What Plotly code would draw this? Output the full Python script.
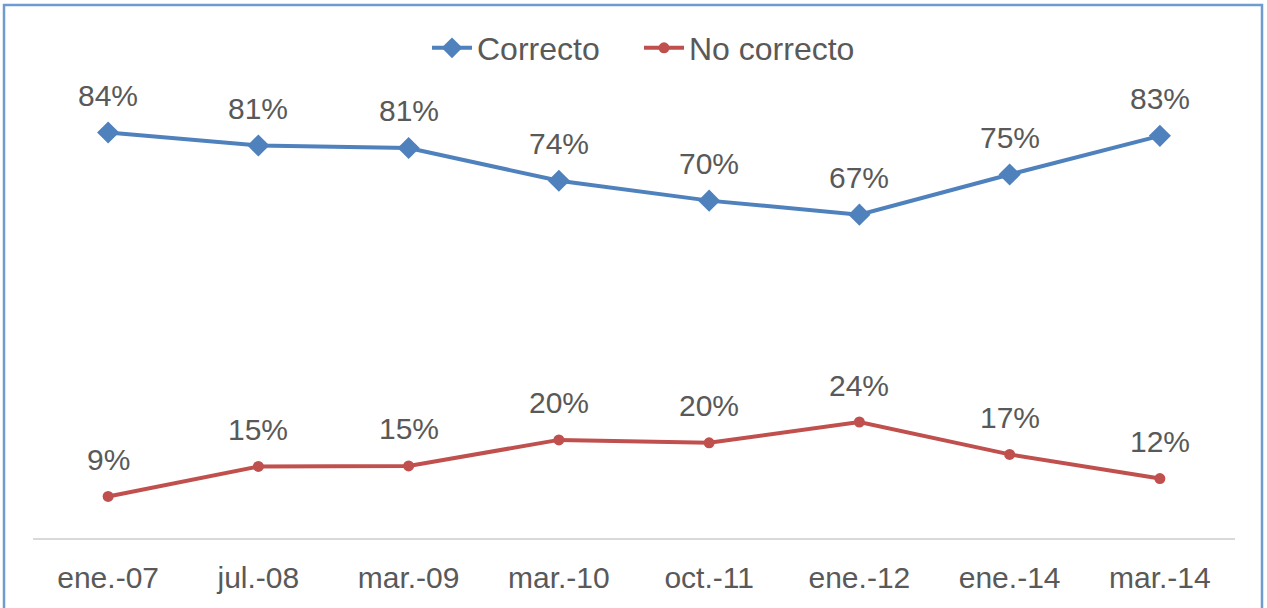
import plotly.graph_objects as go

categories = ["ene.-07", "jul.-08", "mar.-09", "mar.-10", "oct.-11", "ene.-12", "ene.-14", "mar.-14"]
correcto = [83.9, 81.2, 80.7, 73.9, 69.8, 66.9, 75.2, 83.2]
no_correcto = [8.6, 14.8, 14.9, 20.3, 19.7, 24.0, 17.3, 12.3]

BLUE = "#4F81BD"
RED = "#C0504D"
TXT = "#595959"
FONT = "Liberation Sans, Arial, sans-serif"

W, H = 1267, 608
L, R, T, B = 33, 32, 103, 70
pw, ph = W - L - R, H - T - B

fig = go.Figure()
fig.add_trace(go.Scatter(
    x=categories, y=correcto, name="Correcto", mode="lines+markers", legend="legend",
    line=dict(color=BLUE, width=4), marker=dict(symbol="diamond", size=17, color=BLUE),
))
fig.add_trace(go.Scatter(
    x=categories, y=no_correcto, name="No correcto", mode="lines+markers", legend="legend2",
    line=dict(color=RED, width=4), marker=dict(symbol="circle", size=11, color=RED),
))

for series in (correcto, no_correcto):
    for c, v in zip(categories, series):
        fig.add_annotation(x=c, y=v, text=f"{v:.0f}%", showarrow=False,
                           yanchor="middle", yshift=37,
                           font=dict(family=FONT, size=30, color=TXT))

def px_x(p):
    return (p - L) / pw

def px_y(p):
    return (H - B - p) / ph

fig.add_shape(type="rect", xref="paper", yref="paper",
              x0=px_x(4), x1=px_x(1262), y0=px_y(615), y1=px_y(5),
              line=dict(color="#6F9BD1", width=2.5), fillcolor="rgba(0,0,0,0)")

legend_style = dict(orientation="h", xanchor="left", y=px_y(48), yanchor="middle",
                    font=dict(family=FONT, size=32, color=TXT), itemwidth=40,
                    bgcolor="rgba(0,0,0,0)")

fig.update_layout(
    width=W, height=H, margin=dict(l=L, r=R, t=T, b=B, autoexpand=False),
    paper_bgcolor="white", plot_bgcolor="white",
    font=dict(family=FONT, color=TXT),
    showlegend=True,
    legend=dict(x=px_x(427), **legend_style),
    legend2=dict(x=px_x(639), **legend_style),
    xaxis=dict(type="category", range=[-0.5, len(categories) - 0.5], showgrid=False,
               showline=True, linecolor="#D9D9D9", linewidth=1.5, ticks="",
               tickfont=dict(family=FONT, size=30, color=TXT), ticklabelstandoff=12,
               zeroline=False, fixedrange=True),
    yaxis=dict(range=[0, 90], visible=False, showgrid=False, zeroline=False),
)

fig.write_html("out.html", config={"displayModeBar": False},
               post_script="document.body.style.margin='0';document.body.style.overflow='hidden';")
